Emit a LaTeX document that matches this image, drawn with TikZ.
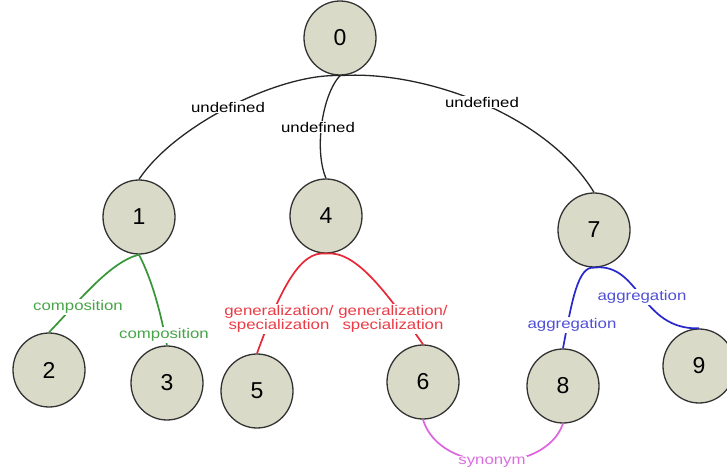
\documentclass[tikz,border=0pt]{standalone}
\usepackage{fontspec}
\setmainfont{Liberation Sans}
\newfontfamily\lblfont[FakeStretch=1.2]{Liberation Sans}
\usetikzlibrary{shapes.geometric}
\definecolor{nodefill}{RGB}{218,218,200}
\definecolor{nodeline}{RGB}{50,50,50}
\definecolor{grn}{RGB}{55,150,55}
\definecolor{grnt}{RGB}{70,165,70}
\definecolor{rd}{RGB}{230,40,55}
\definecolor{rdt}{RGB}{235,60,70}
\definecolor{bl}{RGB}{40,40,205}
\definecolor{blt}{RGB}{80,80,215}
\definecolor{mg}{RGB}{220,100,220}
\definecolor{mgt}{RGB}{220,110,225}
\begin{document}
\begin{tikzpicture}[x=1pt,y=-1pt,
  nd/.style={ellipse, draw=nodeline, fill=nodefill, line width=1.3pt,
    minimum width=72pt, minimum height=74pt, inner sep=0pt,
    font=\fontsize{23}{26}\selectfont},
  lbl/.style={fill=white, inner sep=1pt, align=center,
    font=\lblfont\fontsize{14}{14}\selectfont},
  blkedge/.style={draw=black!85, line width=1.3pt},
  grnedge/.style={draw=grn, line width=1.7pt},
  rdedge/.style={draw=rd, line width=1.7pt},
  bledge/.style={draw=bl, line width=1.7pt},
  mgedge/.style={draw=mg, line width=1.7pt}]
\useasboundingbox (0,0) rectangle (727,470);
\clip (0,0) rectangle (727,470);
\fill[white] (0,0) rectangle (727,470);

% nodes
\node[nd] (n0) at (340,38) {0};
\node[nd] (n1) at (139,217) {1};
\node[nd] (n4) at (326,216) {4};
\node[nd] (n7) at (594,230) {7};
\node[nd] (n2) at (49,370) {2};
\node[nd] (n3) at (167,383) {3};
\node[nd] (n5) at (257,391) {5};
\node[nd] (n6) at (423,382) {6};
\node[nd] (n8) at (563,386) {8};
\node[nd] (n9) at (699,366) {9};

% edges
\path[blkedge] (n0.south) .. controls (280,73) and (175,125) .. (n1.north);
\path[blkedge] (n0.south) .. controls (322,95) and (314,150) .. (n4.north);
\path[blkedge] (n0.south) .. controls (420,70) and (545,112) .. (n7.north);
\path[grnedge] (n1.south) .. controls (110,262) and (80,300) .. (n2.north);
\path[grnedge] (n1.south) .. controls (152,280) and (160,310) .. (n3.north);
\path[rdedge] (n4.south) .. controls (300,250) and (280,290) .. (n5.north);
\path[rdedge] (n4.south) .. controls (355,250) and (385,290) .. (n6.north);
\path[bledge] (n7.south) .. controls (578,266) and (572,300) .. (n8.north);
\path[bledge] (n7.south) .. controls (640,262) and (640,330) .. (n9.north);
\path[mgedge] (n6.south) .. controls (440,475) and (545,475) .. (n8.south);

% labels
\node[lbl] (l01) at (228,107) {undefined};
\node[lbl] (l04) at (318,127) {undefined};
\node[lbl] (l07) at (482,102) {undefined};
\node[lbl, text=grnt] (l12) at (78,307) {composition};
\node[lbl, text=grnt] (l13) at (164,335) {composition};
\node[lbl, text=rdt] (l45) at (279,319) {generalization/\\specialization};
\node[lbl, text=rdt] (l46) at (393,319) {generalization/\\specialization};
\node[lbl, text=blt] (l78) at (572,325) {aggregation};
\node[lbl, text=blt] (l79) at (642,297) {aggregation};
\node[lbl, text=mgt] (l68) at (492,462) {synonym};
\end{tikzpicture}
\end{document}
